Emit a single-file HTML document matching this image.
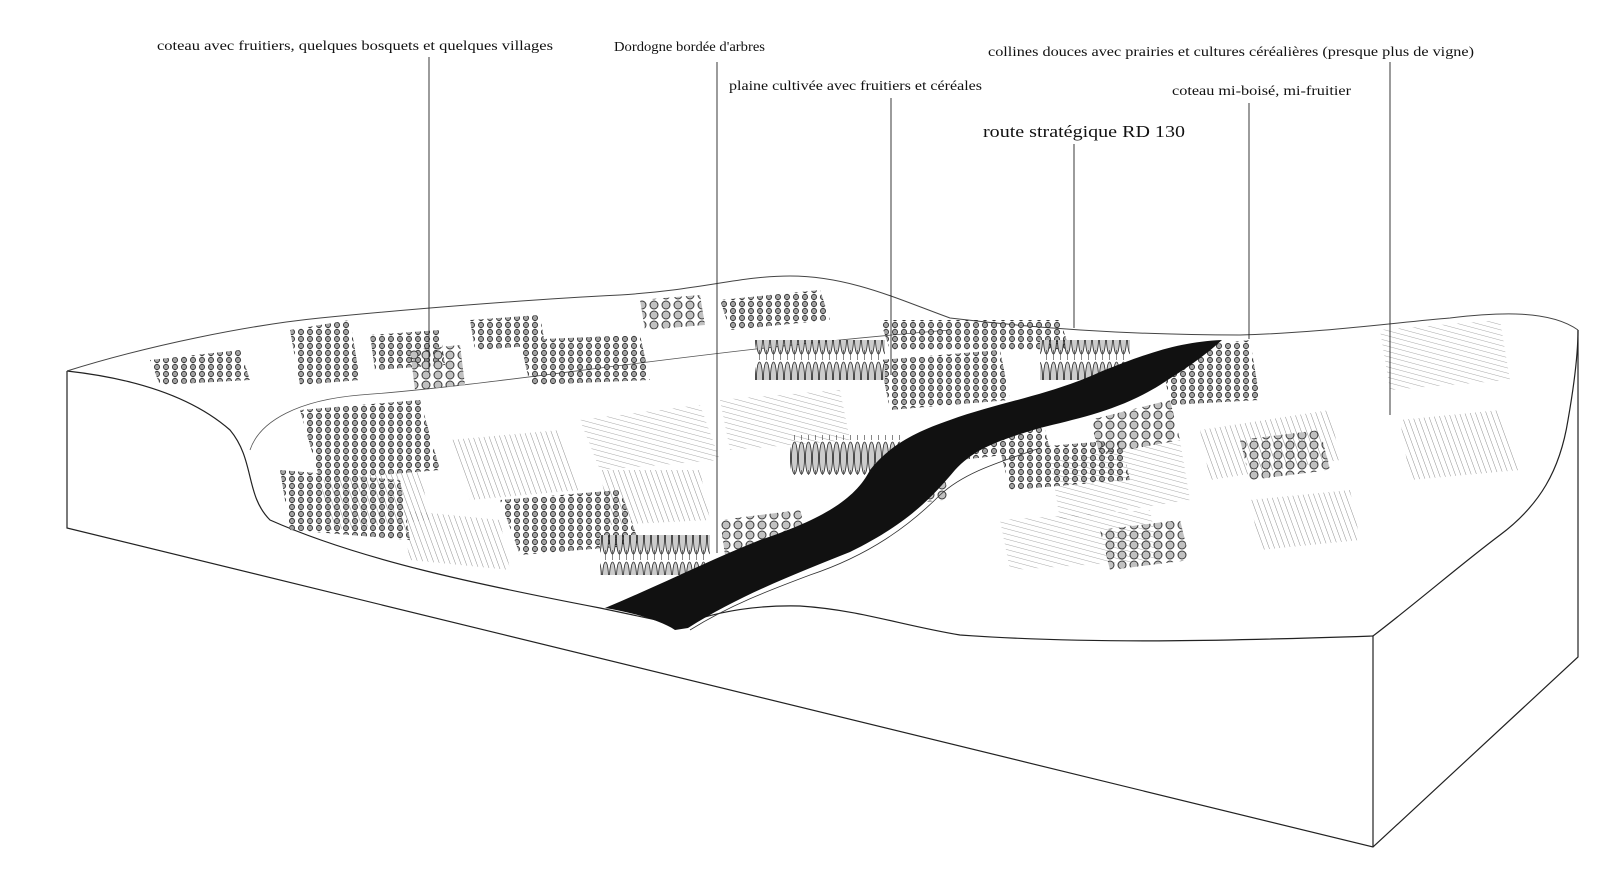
<!DOCTYPE html>
<html><head><meta charset="utf-8"><style>
html,body{margin:0;padding:0;background:#fff;}
svg{display:block}
text{font-family:"Liberation Serif",serif;fill:#111;}
</style></head><body>
<svg width="1600" height="870" viewBox="0 0 1600 870" xmlns="http://www.w3.org/2000/svg">
<defs>
<pattern id="h1" width="5" height="5" patternUnits="userSpaceOnUse" patternTransform="rotate(-20)"><line x1="0" y1="0" x2="0" y2="5" stroke="#666" stroke-width="0.8"/></pattern>
<pattern id="h2" width="5" height="5" patternUnits="userSpaceOnUse" patternTransform="rotate(15)"><line x1="0" y1="0" x2="5" y2="0" stroke="#777" stroke-width="0.7"/></pattern>
<pattern id="dots" width="9" height="7" patternUnits="userSpaceOnUse"><circle cx="4" cy="3" r="2.6" fill="#999" stroke="#222" stroke-width="0.9"/><path d="M2 5 l2 1.5 l2-1.5" fill="#222"/></pattern>
<pattern id="blob" width="12" height="10" patternUnits="userSpaceOnUse"><circle cx="6" cy="5" r="4" fill="#bbb" stroke="#222" stroke-width="1"/></pattern>
<pattern id="pop" width="7" height="40" patternUnits="userSpaceOnUse"><ellipse cx="3.5" cy="18" rx="3" ry="16" fill="#ccc" stroke="#222" stroke-width="0.8"/><line x1="3.5" y1="30" x2="3.5" y2="40" stroke="#333" stroke-width="0.6"/></pattern>
</defs>

<path d="M67 371 L67 528 L1373 847 L1578 657 L1578 330" fill="none" stroke="#222" stroke-width="1.2"/>
<line x1="1373" y1="636" x2="1373" y2="847" stroke="#222" stroke-width="1.2"/>
<path d="M67 371 C130 378 190 395 230 430 C255 460 245 495 270 520 C360 560 480 585 600 608 L680 625 C720 610 760 605 800 606 C860 610 900 625 960 635 C1100 645 1250 640 1373 636" fill="none" stroke="#222" stroke-width="1.2"/>
<path d="M1373 636 C1420 600 1460 565 1500 535 C1540 505 1560 470 1568 420 C1575 380 1578 350 1578 330" fill="none" stroke="#222" stroke-width="1.2"/>
<path d="M67 371 C150 345 250 325 320 318 C400 310 520 300 620 295 C700 290 740 276 790 276 C850 276 900 300 950 318 C1050 330 1150 335 1240 335 C1320 333 1400 322 1450 318 C1500 312 1550 310 1578 330" fill="none" stroke="#444" stroke-width="1"/>
<path d="M250 450 C260 420 300 400 360 395 C500 385 700 350 950 330" fill="none" stroke="#555" stroke-width="0.8"/>

<g opacity="0.9">
<polygon points="300,410 420,400 440,470 320,480" fill="url(#dots)"/>
<polygon points="450,440 560,430 580,490 470,500" fill="url(#h1)"/>
<polygon points="580,420 700,405 720,460 600,470" fill="url(#h2)"/>
<polygon points="500,500 620,490 640,545 520,555" fill="url(#dots)"/>
<polygon points="280,470 400,480 410,540 290,530" fill="url(#dots)"/>
<polygon points="400,510 500,520 510,570 410,560" fill="url(#h1)"/>
<polygon points="720,400 840,390 850,440 730,450" fill="url(#h2)"/>
<polygon points="600,470 700,470 710,520 610,525" fill="url(#h1)"/>
<polygon points="880,360 1000,350 1010,400 890,410" fill="url(#dots)"/>
<polygon points="520,340 640,335 650,380 530,385" fill="url(#dots)"/>
<polygon points="1050,460 1180,440 1190,500 1060,520" fill="url(#h2)"/>
<polygon points="1200,430 1330,410 1340,460 1210,480" fill="url(#h1)"/>
<polygon points="1380,330 1500,320 1510,380 1390,390" fill="url(#h2)"/>
<polygon points="1400,420 1500,410 1520,470 1410,480" fill="url(#h1)"/>
<polygon points="1000,520 1150,510 1160,560 1010,570" fill="url(#h2)"/>
<polygon points="1250,500 1350,490 1360,540 1260,550" fill="url(#h1)"/>
<polygon points="150,360 240,350 250,380 160,385" fill="url(#dots)"/>
<polygon points="290,330 350,320 360,380 300,385" fill="url(#dots)"/>
<polygon points="470,320 540,315 545,345 475,350" fill="url(#dots)"/>
<polygon points="880,320 1060,320 1070,350 890,350" fill="url(#dots)"/>
<polygon points="1160,350 1250,340 1260,400 1170,405" fill="url(#dots)"/>
<polygon points="950,420 1040,410 1050,450 960,460" fill="url(#dots)"/>
<polygon points="1000,450 1120,440 1130,480 1010,490" fill="url(#dots)"/>
<polygon points="720,300 820,290 830,320 730,330" fill="url(#dots)"/>
<polygon points="370,335 440,330 445,365 375,370" fill="url(#dots)"/>
<polygon points="320,480 420,470 430,520 330,530" fill="url(#h1)"/>
<polygon points="870,470 940,460 950,500 880,505" fill="url(#blob)"/>
<polygon points="720,520 800,510 810,545 725,555" fill="url(#blob)"/>
<polygon points="1090,420 1170,400 1180,440 1100,455" fill="url(#blob)"/>
<polygon points="1240,440 1320,430 1330,470 1250,480" fill="url(#blob)"/>
<polygon points="1100,530 1180,520 1190,560 1110,570" fill="url(#blob)"/>
<polygon points="410,350 460,345 465,385 415,390" fill="url(#blob)"/>
<polygon points="640,300 700,295 705,325 645,330" fill="url(#blob)"/>
</g>
<rect x="755" y="340" width="130" height="40" fill="url(#pop)"/>
<rect x="790" y="435" width="110" height="40" fill="url(#pop)"/>
<rect x="600" y="535" width="110" height="40" fill="url(#pop)"/>
<rect x="1040" y="340" width="90" height="40" fill="url(#pop)"/>

<path d="M605 608 C660 585 710 560 760 540 C820 520 855 500 870 470 C890 445 915 432 950 420 C1000 402 1050 395 1100 372 C1150 352 1180 342 1222 340 C1200 360 1180 372 1160 385 C1120 410 1080 418 1040 428 C1000 440 975 448 955 470 C930 500 905 525 850 552 C800 572 740 595 688 628 L675 630 C660 620 630 612 605 608 Z" fill="#111"/>
<path d="M690 630 C730 605 770 590 810 575 C870 555 910 525 940 495 C965 472 1000 462 1040 448" fill="none" stroke="#333" stroke-width="0.8"/>

<g stroke="#222" stroke-width="0.9">
<line x1="429" y1="57" x2="429" y2="372"/>
<line x1="717" y1="62" x2="717" y2="553"/>
<line x1="891" y1="98" x2="891" y2="375"/>
<line x1="1074" y1="144" x2="1074" y2="328"/>
<line x1="1249" y1="103" x2="1249" y2="339"/>
<line x1="1390" y1="62" x2="1390" y2="415"/>
</g>

<text x="157" y="50" font-size="14" textLength="396" lengthAdjust="spacingAndGlyphs">coteau avec fruitiers, quelques bosquets et quelques villages</text>
<text x="614" y="51" font-size="14" textLength="151" lengthAdjust="spacingAndGlyphs">Dordogne bordée d'arbres</text>
<text x="729" y="90" font-size="14" textLength="253" lengthAdjust="spacingAndGlyphs">plaine cultivée avec fruitiers et céréales</text>
<text x="988" y="56" font-size="14" textLength="486" lengthAdjust="spacingAndGlyphs">collines douces avec prairies et cultures céréalières (presque plus de vigne)</text>
<text x="1172" y="95" font-size="14" textLength="179" lengthAdjust="spacingAndGlyphs">coteau mi-boisé, mi-fruitier</text>
<text x="983" y="137" font-size="17" textLength="202" lengthAdjust="spacingAndGlyphs">route stratégique RD 130</text>
</svg>
</body></html>
